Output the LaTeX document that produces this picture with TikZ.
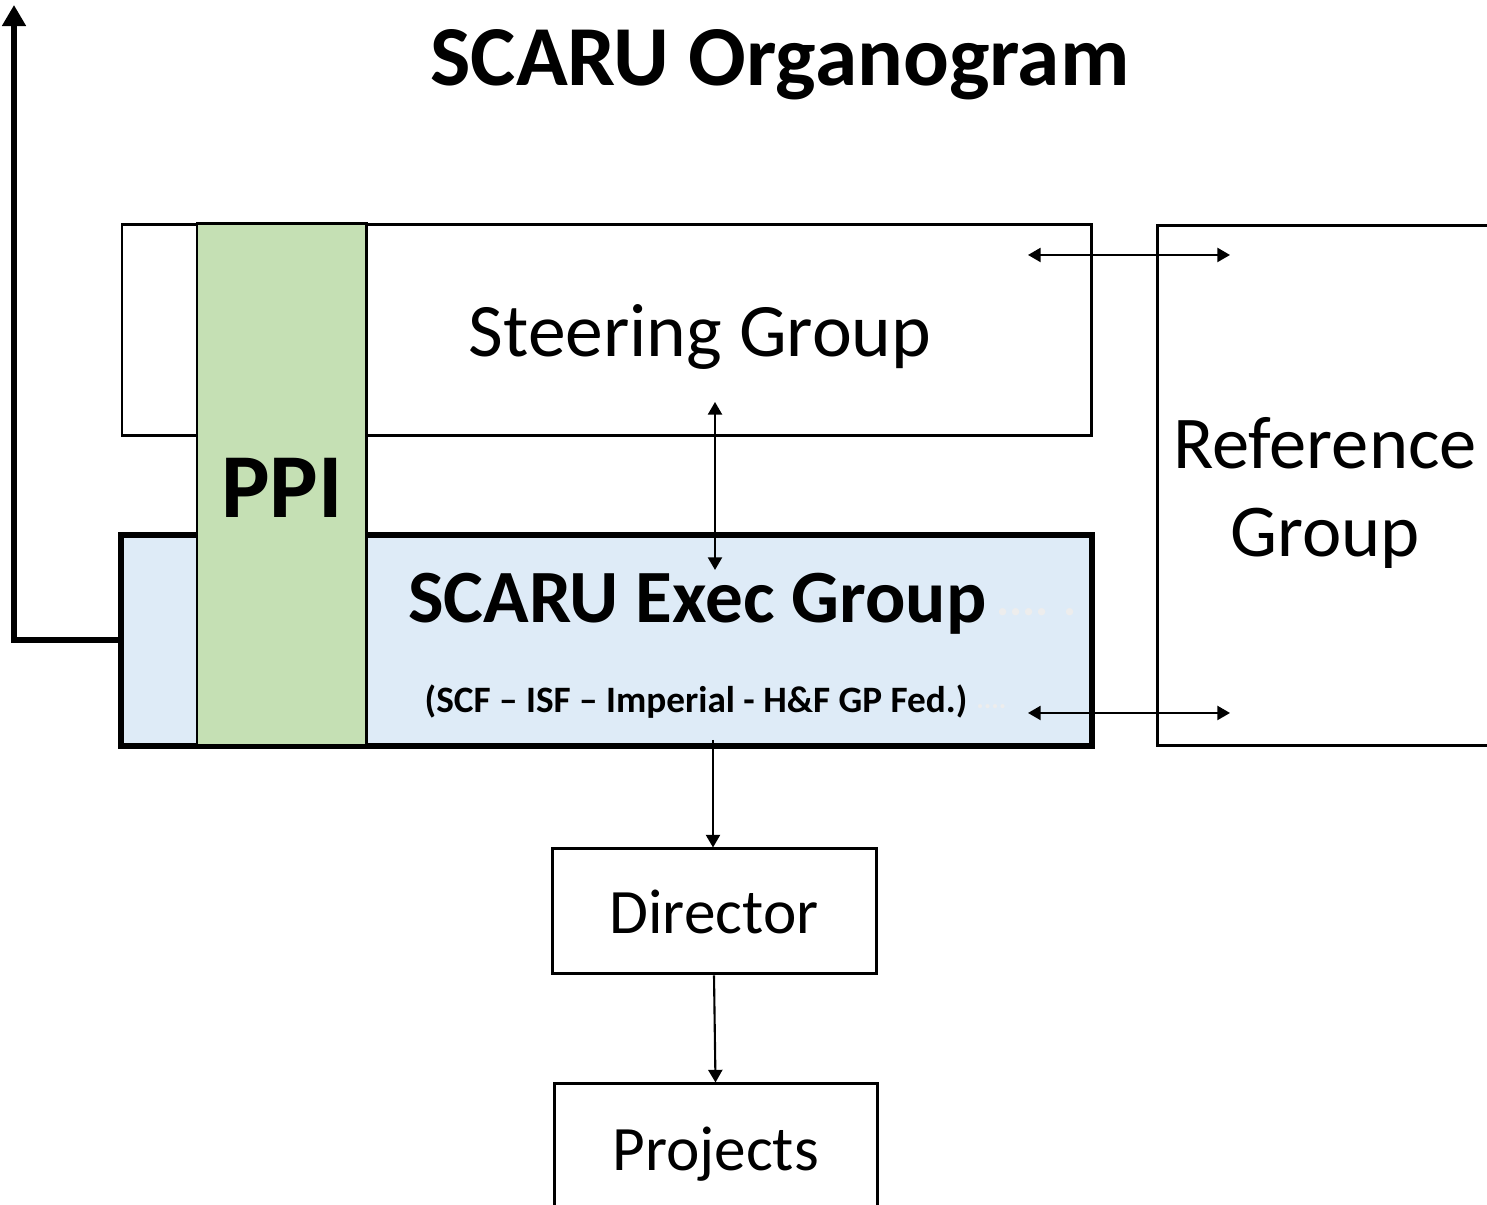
\documentclass[tikz,border=0pt]{standalone}
\usepackage{fontspec}
\setmainfont{Carlito}
\usetikzlibrary{arrows.meta}
\definecolor{ppigreen}{HTML}{C5E0B4}
\definecolor{execblue}{HTML}{DEEBF7}
\definecolor{faintgray}{HTML}{EDEDED}

\begin{document}
\begin{tikzpicture}[
    box/.style={draw=black, line width=0.85pt, inner sep=0pt},
    arr/.style={line width=0.6pt, -{Triangle[length=3.6pt, width=4pt]}},
    darr/.style={line width=0.6pt, {Triangle[length=3.6pt, width=4pt]}-{Triangle[length=3.6pt, width=4pt]}},
    bigarr/.style={line width=1.7pt, -{Triangle[length=6pt, width=6.5pt]}}
  ]
    % page frame
    \useasboundingbox (0,0) rectangle (14.87,12.05);
    \clip (0,0) rectangle (14.87,12.05);

    \node[font=\fontsize{24.3}{28}\selectfont\bfseries] (title) at (7.8, 11.40) {SCARU Organogram};

    % the groups
    \node[box, minimum width=9.69cm, minimum height=2.11cm] (steering) at (6.065, 8.745) {};
    \node[box, minimum width=3.5cm, minimum height=5.2cm] (reference) at (13.32, 7.19) {};
    \node[box, fill=execblue, line width=1.7pt, minimum width=9.71cm, minimum height=2.11cm] (exec) at (6.065, 5.645) {};
    \node[box, fill=ppigreen, minimum width=1.69cm, minimum height=5.22cm] (ppi) at (2.815, 7.2) {};

    \node[font=\fontsize{21.5}{26}\selectfont] (steertext) at (7.0, 8.68) {Steering Group};
    \node[font=\fontsize{26}{30}\selectfont\bfseries] (ppitext) at (2.82, 7.17) {PPI};
    \node[font=\fontsize{21.4}{25}\selectfont\bfseries] (exectext) at (6.975, 6.01) {SCARU Exec Group};
    \node[anchor=west, text=faintgray, font=\fontsize{14}{16}\selectfont\bfseries] (execdots) at (9.84, 5.93) {.... .};
    \node[font=\fontsize{10.6}{12}\selectfont\bfseries] (members) at (6.96, 5.03) {(SCF -- ISF -- Imperial - H\&F GP Fed.)};
    \node[anchor=west, text=faintgray, font=\fontsize{8}{10}\selectfont\bfseries] (memberdots) at (9.64, 4.98) {....};
    \node[align=center, font=\fontsize{21.2}{25}\selectfont] (reftext) at (13.25, 7.12) {Reference\\Group};

    % management line
    \node[box, minimum width=3.24cm, minimum height=1.25cm, font=\fontsize{18}{22}\selectfont] (director) at (7.14, 2.935) {Director};
    \node[box, minimum width=3.23cm, minimum height=1.4cm, font=\fontsize{18}{22}\selectfont] (projects) at (7.155, 0.51) {Projects};

    % links
    \coordinate (stL) at (10.28, 9.5);
    \coordinate (stR) at (12.30, 9.5);
    \coordinate (exL) at (10.28, 4.92);
    \coordinate (exR) at (12.30, 4.92);
    \coordinate (vUp) at (7.15, 8.03);
    \coordinate (vDn) at (7.15, 6.35);
    \coordinate (exBot) at (7.13, 4.65);
    \coordinate (topleft) at (0.14, 12.0);

    \draw[darr] (stL) -- (stR);
    \draw[darr] (exL) -- (exR);
    \draw[darr] (vUp) -- (vDn);
    \draw[arr] (exBot) -- (director.north -| exBot);
    \draw[arr] (director.south) -- (projects.north);
    \draw[bigarr] (exec.west) -| (topleft);
\end{tikzpicture}
\end{document}
